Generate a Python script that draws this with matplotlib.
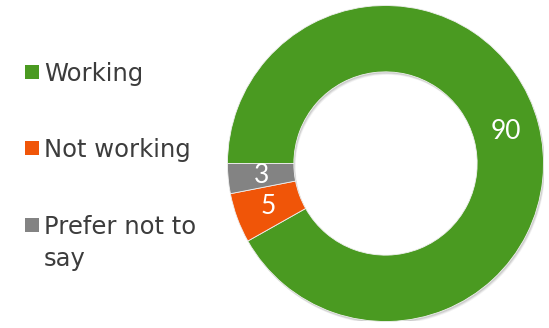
import matplotlib
matplotlib.use("Agg")
import matplotlib.pyplot as plt
from matplotlib.patches import Rectangle, Wedge

categories = ["Working", "Not working", "Prefer not to\nsay"]
values = [90, 5, 3]
colors = ["#4A9A21", "#F05508", "#838383"]

W, H = 549, 328
fig = plt.figure(figsize=(W / 100, H / 100), dpi=100)

cx, cy, r = 385.5, 163.5, 158
ax = fig.add_axes([(cx - r) / W, (H - cy - r) / H, 2 * r / W, 2 * r / H])
ax.set_aspect("equal")
width = 0.42

# soft shadow
px = 1.0 / r
for k, a in [(3.0, 0.05), (2.2, 0.07), (1.4, 0.09)]:
    ax.add_patch(Wedge((k * px * 0.6, -k * px), 1, 0, 360, width=width,
                       facecolor="black", alpha=a, edgecolor="none", zorder=0))

wedges, texts = ax.pie(values, colors=colors, startangle=180, counterclock=False,
                       radius=1, wedgeprops=dict(width=width, linewidth=0.6, edgecolor="#f0f0f0"),
                       labels=[str(v) for v in values], labeldistance=1 - width / 2,
                       textprops=dict(color="white", fontsize=19, family="Lato"))
for w in wedges:
    w.set_zorder(2)
for t in texts:
    t.set_ha("center")
    t.set_va("center")
    t.set_zorder(3)
ax.set_xlim(-1, 1)
ax.set_ylim(-1, 1)
ax.axis("off")

# legend (manual)
ys = [71.5, 148, 224.5]
line_gap = 32
for lab, col, y in zip(categories, colors, ys):
    fig.patches.append(Rectangle((25 / W, (H - y - 7) / H), 14 / W, 14 / H,
                                 transform=fig.transFigure, facecolor=col, edgecolor="none"))
    for i, line in enumerate(lab.split("\n")):
        base = y + 9.5 + i * line_gap
        fig.text(44 / W, (H - base) / H, line, fontsize=17.5, color="#3c3c3c",
                 family="DejaVu Sans", ha="left", va="baseline")

fig.savefig("out.png", dpi=100)
